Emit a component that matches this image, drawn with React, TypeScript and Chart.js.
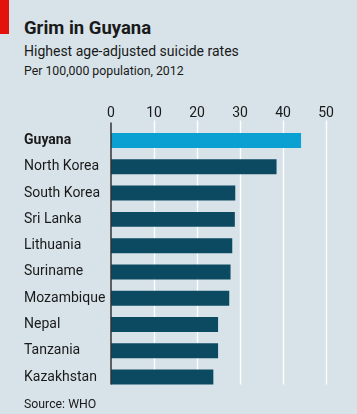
import React, { useEffect, useRef } from "react";
import { Chart, registerables } from "chart.js";

Chart.register(...registerables);

const countries = [
  "Guyana",
  "North Korea",
  "South Korea",
  "Sri Lanka",
  "Lithuania",
  "Suriname",
  "Mozambique",
  "Nepal",
  "Tanzania",
  "Kazakhstan",
];
const rates = [44.2, 38.5, 28.9, 28.8, 28.2, 27.8, 27.5, 24.9, 24.9, 23.8];
const xTicks = [0, 10, 20, 30, 40, 50];

const BG = "#d7e3e9";
const TEXT = "#1a1a1a";
const HIGHLIGHT = "#0aa1d2";
const DARK = "#0c4a61";
const FONT = "Roboto, 'Noto Sans', sans-serif";

const gridPlugin = {
  id: "econGrid",
  beforeDatasetsDraw(chart: any) {
    const xs = chart.scales.x;
    const meta = chart.getDatasetMeta(0);
    const last = meta.data[meta.data.length - 1];
    const bottom = last.y + last.height / 2;
    const top = chart.chartArea.top - 7;
    const ctx = chart.ctx;
    ctx.save();
    ctx.strokeStyle = "#ffffff";
    ctx.lineWidth = 1.4;
    xTicks.forEach((v) => {
      if (v === 0) return;
      const px = Math.round(xs.getPixelForValue(v)) + 0.5;
      ctx.beginPath();
      ctx.moveTo(px, top);
      ctx.lineTo(px, bottom);
      ctx.stroke();
    });
    ctx.restore();
  },
  afterDatasetsDraw(chart: any) {
    const xs = chart.scales.x;
    const meta = chart.getDatasetMeta(0);
    const last = meta.data[meta.data.length - 1];
    const bottom = last.y + last.height / 2;
    const top = chart.chartArea.top - 5;
    const ctx = chart.ctx;
    ctx.save();
    ctx.strokeStyle = "#333333";
    ctx.lineWidth = 1.5;
    const px = xs.getPixelForValue(0);
    ctx.beginPath();
    ctx.moveTo(px, top);
    ctx.lineTo(px, bottom);
    ctx.stroke();
    ctx.restore();
  },
};

export default function App() {
  const ref = useRef<HTMLCanvasElement | null>(null);

  useEffect(() => {
    if (!ref.current) return;
    const chart = new Chart(ref.current, {
      type: "bar",
      data: {
        labels: countries,
        datasets: [
          {
            data: rates,
            backgroundColor: countries.map((_, i) => (i === 0 ? HIGHLIGHT : DARK)),
            borderWidth: 0,
            categoryPercentage: 1,
            barPercentage: 0.57,
          },
        ],
      },
      options: {
        indexAxis: "y",
        animation: false,
        responsive: false,
        maintainAspectRatio: false,
        layout: { padding: { left: 24, right: 31, top: 97.4, bottom: 23.8 } },
        plugins: { legend: { display: false }, tooltip: { enabled: false } },
        scales: {
          x: {
            position: "top",
            min: 0,
            max: 50,
            afterBuildTicks: (scale: any) => {
              scale.ticks = xTicks.map((v) => ({ value: v }));
            },
            afterFit: (scale: any) => {
              scale.height = 30;
            },
            grid: { display: false, drawTicks: false, tickLength: 7 },
            border: { display: false },
            ticks: {
              color: TEXT,
              padding: 7,
              font: { family: FONT, size: 14, lineHeight: 1 },
            },
          },
          y: {
            afterFit: (scale: any) => {
              scale.width = 87;
            },
            grid: { display: false, drawTicks: false },
            border: { display: false },
            ticks: {
              crossAlign: "far",
              color: TEXT,
              padding: 0,
              font: (c: any) => ({
                family: FONT,
                size: 14,
                weight: c.index === 0 ? "bold" : "normal",
              }),
            },
          },
        },
      },
      plugins: [gridPlugin],
    } as any);
    return () => chart.destroy();
  }, []);

  return (
    <div
      style={{
        position: "fixed",
        left: 0,
        top: 0,
        width: 357,
        height: 414,
        background: BG,
        overflow: "hidden",
        fontFamily: FONT,
        color: TEXT,
      }}
    >
      <div style={{ position: "absolute", left: 0, top: 0, width: 9, height: 34, background: "#e3120b" }} />
      <div
        style={{ position: "absolute", left: 24, top: 19, fontSize: 18.5, lineHeight: "18px", fontWeight: "bold", whiteSpace: "nowrap" }}
      >
        Grim in Guyana
      </div>
      <div style={{ position: "absolute", left: 24, top: 44, fontSize: 14, lineHeight: "14px", whiteSpace: "nowrap" }}>
        Highest age-adjusted suicide rates
      </div>
      <div style={{ position: "absolute", left: 24, top: 64.8, fontSize: 12.3, lineHeight: "12.3px", whiteSpace: "nowrap" }}>
        Per 100,000 population, 2012
      </div>
      <canvas ref={ref} width={357} height={414} style={{ position: "absolute", left: 0, top: 0 }} />
      <div style={{ position: "absolute", left: 24, top: 397.5, fontSize: 12.3, lineHeight: "12.3px", whiteSpace: "nowrap" }}>
        Source: WHO
      </div>
    </div>
  );
}
